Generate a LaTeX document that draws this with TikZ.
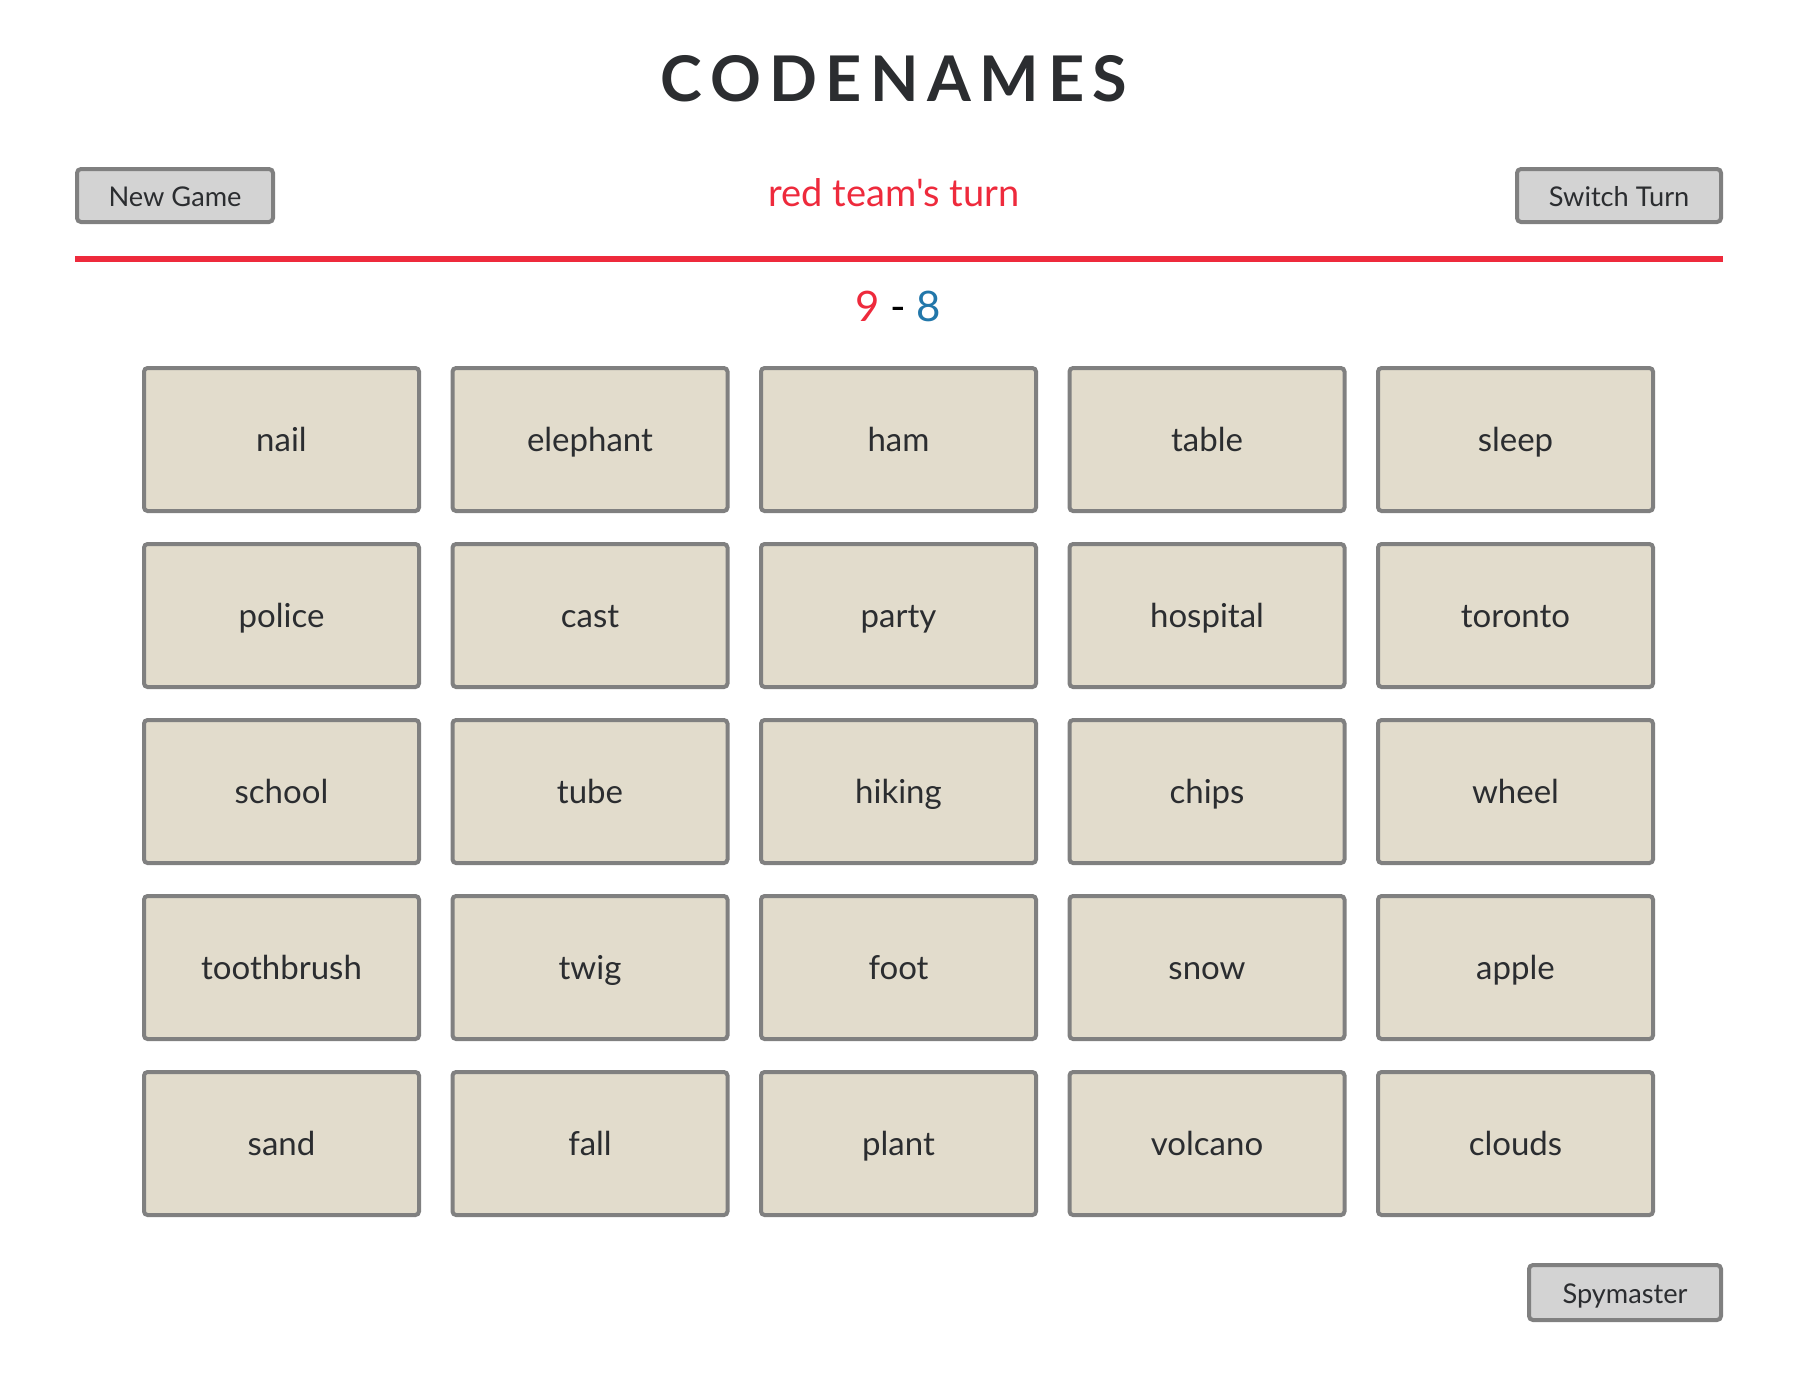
\documentclass[tikz,border=0pt]{standalone}
\usepackage{fontspec}
\setmainfont{Lato}
\newfontfamily\plainlato{Lato}
\newfontfamily\titlefont[LetterSpace=13.5]{Lato}
\definecolor{cardfill}{HTML}{E2DCCC}
\definecolor{cardborder}{HTML}{808080}
\definecolor{btnfill}{HTML}{D3D3D3}
\definecolor{redc}{HTML}{EE2A3C}
\definecolor{bluec}{HTML}{2277AA}
\definecolor{textdark}{HTML}{2B2D30}
\begin{document}
\begin{tikzpicture}[x=0.5pt,y=-0.5pt,
  card/.style={draw=cardborder, fill=cardfill, line width=2pt, rounded corners=1.8pt,
    minimum width=137.5pt, minimum height=71.5pt, inner sep=0pt,
    text height=12pt, text depth=0pt, text=textdark,
    font=\fontsize{16.5pt}{19pt}\selectfont},
  button/.style={draw=cardborder, fill=btnfill, line width=2pt, rounded corners=2pt,
    inner sep=0pt, minimum height=26.5pt, text height=10.5pt, text depth=0pt,
    text=textdark, font=\fontsize{13.6pt}{16pt}\selectfont}
]
\useasboundingbox (0,0) rectangle (1798,1372);
\fill[white] (0,0) rectangle (1798,1372);
\node[anchor=base, text=textdark, font=\titlefont\bfseries\fontsize{31.5pt}{36pt}\selectfont] (title) at (894,101) {CODENAMES};
\node[anchor=base, text=redc, font=\plainlato\fontsize{19pt}{22pt}\selectfont] (turn) at (894,206) {red team's turn};
\coordinate (l1) at (75,259);
\coordinate (l2) at (1723,259);
\draw[redc, line width=3pt] (l1) -- (l2);
\node[anchor=base, text=black, font=\fontsize{21pt}{24pt}\selectfont] (score) at (898,321) {\textcolor{redc}{9} - \textcolor{bluec}{8}};
\node[button, minimum width=98pt] (newgame) at (175,195.5) {New Game};
\node[button, minimum width=102pt] (switchturn) at (1619,195.5) {Switch Turn};
\node[button, minimum width=96pt, minimum height=27.5pt] (spymaster) at (1625,1292.5) {Spymaster};
\foreach \w [count=\i from 0] in {nail,elephant,ham,table,sleep,police,cast,party,hospital,toronto,school,tube,hiking,chips,wheel,toothbrush,twig,foot,snow,apple,sand,fall,plant,volcano,clouds}{
  \pgfmathtruncatemacro\cc{mod(\i,5)}
  \pgfmathtruncatemacro\rr{div(\i,5)}
  \node[card] (\w) at ({281.5+308.5*\cc},{439.5+176*\rr}) {\w};
}
\end{tikzpicture}
\end{document}
